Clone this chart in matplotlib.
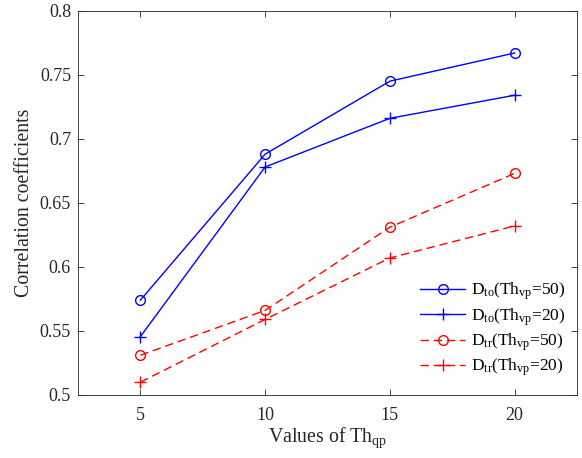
import matplotlib
matplotlib.use("Agg")
import matplotlib.pyplot as plt

plt.rcParams['font.family'] = ['Liberation Serif', 'DejaVu Serif']
plt.rcParams['mathtext.fontset'] = 'custom'
plt.rcParams['mathtext.rm'] = 'Liberation Serif'
plt.rcParams['mathtext.it'] = 'Liberation Serif:italic'

thqp = [5, 10, 15, 20]
dto_50 = [0.574, 0.688, 0.745, 0.767]
dto_20 = [0.5455, 0.678, 0.716, 0.734]
dtr_50 = [0.531, 0.566, 0.631, 0.673]
dtr_20 = [0.510, 0.559, 0.607, 0.632]
labels = [r'D$_{\mathrm{to}}$(Th$_{\mathrm{vp}}$=50)',
          r'D$_{\mathrm{to}}$(Th$_{\mathrm{vp}}$=20)',
          r'D$_{\mathrm{tr}}$(Th$_{\mathrm{vp}}$=50)',
          r'D$_{\mathrm{tr}}$(Th$_{\mathrm{vp}}$=20)']

fig = plt.figure(figsize=(5.82, 4.58), dpi=100)
ax = fig.add_axes([0.134, 0.1376, 0.8574, 0.839])

dash = (0, (6, 3.5))
ax.plot(thqp, dto_50, color='#0000ff', lw=1, marker='o', ms=7, mfc='none', mew=1, label=labels[0])
ax.plot(thqp, dto_20, color='#0000ff', lw=1, marker='+', ms=8, mew=1, label=labels[1])
ax.plot(thqp, dtr_50, color='#ff0000', lw=1, ls=dash, marker='o', ms=7, mfc='none', mew=1, label=labels[2])
ax.plot(thqp, dtr_20, color='#ff0000', lw=1, ls=dash, marker='+', ms=8, mew=1, label=labels[3])

ax.set_xlim(2.5, 22.5)
ax.set_ylim(0.5, 0.8)
ax.set_xticks([5, 10, 15, 20])
ax.set_yticks([0.5, 0.55, 0.6, 0.65, 0.7, 0.75, 0.8])
ax.set_yticklabels(['0.5', '0.55', '0.6', '0.65', '0.7', '0.75', '0.8'])
ax.tick_params(direction='in', top=True, right=True, length=4, width=0.6,
               labelsize=13, colors='#262626')
ax.tick_params(axis='x', pad=9)
ax.tick_params(axis='y', pad=5)
for s in ax.spines.values():
    s.set_linewidth(0.6)
    s.set_color('#262626')

ax.set_xlabel(r'Values of Th$_{\mathrm{qp}}$', fontsize=14.3, color='#262626', va='baseline')
ax.set_ylabel('Correlation coefficients', fontsize=14.3, color='#262626', va='center')
ax.xaxis.set_label_coords(0.5636, 0.035, transform=fig.transFigure)
ax.yaxis.set_label_coords(0.042, 0.557, transform=fig.transFigure)

ax.legend(loc='lower right', bbox_to_anchor=(0.99, 0.025), frameon=False,
          fontsize=12.5, handlelength=2.6, handletextpad=0.3, labelspacing=0.22,
          borderaxespad=0)

fig.savefig('out.png', dpi=100)
